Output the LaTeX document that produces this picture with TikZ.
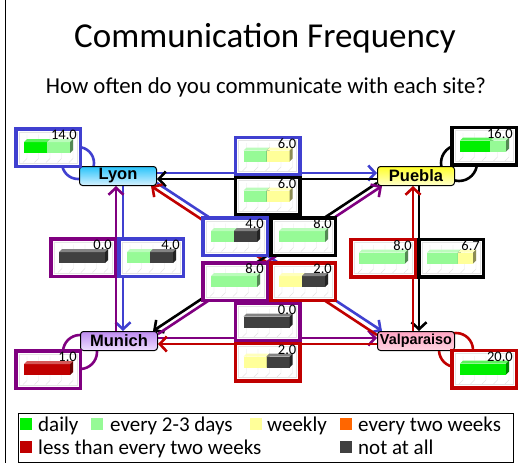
\documentclass[tikz,border=0pt]{standalone}
\usepackage{fontspec}
\setmainfont{Carlito}
\newfontfamily\sitefont{Liberation Sans}
\usetikzlibrary{arrows.meta, positioning}
\pgfdeclarelayer{background}
\pgfsetlayers{background,main}
\definecolor{dailycol}{RGB}{0,240,0}
\definecolor{fewdayscol}{RGB}{150,250,150}
\definecolor{weeklycol}{RGB}{255,255,153}
\definecolor{biweekcol}{RGB}{255,102,0}
\definecolor{rarecol}{RGB}{192,0,0}
\definecolor{nevercol}{RGB}{64,64,64}
\definecolor{gridcol}{RGB}{228,228,228}
\definecolor{lyonborder}{RGB}{64,64,208}
\definecolor{pueblaborder}{RGB}{0,0,0}
\definecolor{munichborder}{RGB}{128,0,128}
\definecolor{valpborder}{RGB}{192,0,0}
\definecolor{lyontop}{RGB}{40,195,250}
\definecolor{lyonbot}{RGB}{215,242,255}
\definecolor{pueblatop}{RGB}{255,255,40}
\definecolor{pueblabot}{RGB}{255,255,205}
\definecolor{munichtop}{RGB}{190,140,240}
\definecolor{munichbot}{RGB}{238,222,255}
\definecolor{valptop}{RGB}{255,165,195}
\definecolor{valpbot}{RGB}{255,212,225}
\tikzset{
  site/.style={rectangle, rounded corners=3pt, draw=black, line width=1pt,
    minimum width=77pt, minimum height=19pt, inner sep=0pt,
    font=\sitefont\bfseries\fontsize{16.5}{18}\selectfont},
  chart/.style={rectangle, draw, line width=3.5pt, fill=white,
    minimum width=64.5pt, minimum height=37.5pt, inner sep=0pt},
  arr/.style={-{Straight Barb[length=7pt, width=15pt]}, line width=2.6pt},
  selfloop/.style={line width=2.6pt},
  legsq/.style={rectangle, minimum size=12pt, inner sep=0pt},
  legtxt/.style={anchor=base west, inner sep=0pt, font=\fontsize{21}{24}\selectfont},
}
% #1 name, #2/#3 centre, #4 border colour, #5 value, #6 bar segments from/to/colour
\newcommand{\chartbox}[6]{%
  \node[chart, draw=#4] (#1) at (#2,#3) {};
  \begin{scope}[shift={(#2,#3)}]
    \draw[gridcol, line width=0.4pt] (-29,-15.5) rectangle (29,15.5);
    \foreach \gx in {-21,-9.5,2,13.5,25}
      \draw[gridcol, line width=0.4pt] (\gx,-13) -- (\gx,11) -- (\gx-4,15);
    \foreach \a/\b/\c in {#6} {
      \pgfmathsetmacro\xa{-24+46*\a}
      \pgfmathsetmacro\xb{-24+46*\b}
      \fill[\c] (\xa,-5.5) rectangle (\xb,5.5);
      \fill[\c!65!white] (\xa,-5.5) -- (\xa+3,-8.5) -- (\xb+3,-8.5) -- (\xb,-5.5) -- cycle;
      \fill[\c!55!black] (\xb,-5.5) -- (\xb+3,-8.5) -- (\xb+3,2.5) -- (\xb,5.5) -- cycle;
    }
    \node[anchor=base east, inner sep=0pt, font=\fontsize{14.5}{16}\selectfont] at (29,-8) {#5};
  \end{scope}
}

\begin{document}
\begin{tikzpicture}[x=1pt, y=-1pt]
  \useasboundingbox (0,0) rectangle (518,463);
  \draw[line width=1pt] (5,0) -- (5,463);

  \node[font=\fontsize{35}{40}\selectfont] (title) at (265,38) {Communication Frequency};
  \node[font=\fontsize{22.8}{26}\selectfont] (question) at (266,87)
    {How often do you communicate with each site?};

  % Sites
  \node[site, top color=lyontop, bottom color=lyonbot] (lyon) at (118,176) {Lyon};
  \node[site, top color=pueblatop, bottom color=pueblabot] (puebla) at (416,176) {Puebla};
  \node[site, top color=munichtop, bottom color=munichbot] (munich) at (119,341) {Munich};
  \node[site, top color=valptop, bottom color=valpbot,
        font=\sitefont\bfseries\fontsize{14.4}{16}\selectfont] (valparaiso) at (416,341) {Valparaiso};

  % Charts on the site itself
  \chartbox{lyonself}{48}{147.5}{lyonborder}{14.0}{0/0.5/dailycol, 0.5/1/fewdayscol}
  \chartbox{pueblaself}{484}{146}{pueblaborder}{16.0}{0/0.66/dailycol, 0.66/1/fewdayscol}
  \chartbox{munichself}{48}{369.5}{munichborder}{1.0}{0/1/rarecol}
  \chartbox{valpself}{484}{369}{valpborder}{20.0}{0/1/dailycol}

  % Lyon - Puebla
  \chartbox{lyonpuebla}{267.5}{156}{lyonborder}{6.0}{0/0.5/fewdayscol, 0.5/1/weeklycol}
  \chartbox{puebyon}{267.5}{196}{pueblaborder}{6.0}{0/0.5/fewdayscol, 0.5/1/weeklycol}

  % Lyon - Munich
  \chartbox{munichlyon}{83}{257.5}{munichborder}{0.0}{0/1/nevercol}
  \chartbox{lyonmunich}{151}{257.5}{lyonborder}{4.0}{0/0.5/fewdayscol, 0.5/1/nevercol}

  % Diagonals
  \chartbox{lyonvalp}{235}{236.5}{lyonborder}{4.0}{0/0.5/fewdayscol, 0.5/1/nevercol}
  \chartbox{pueblamunich}{303}{236.5}{pueblaborder}{8.0}{0/1/fewdayscol}
  \chartbox{munichpuebla}{235}{281.5}{munichborder}{8.0}{0/1/fewdayscol}
  \chartbox{valplyon}{303}{281.5}{valpborder}{2.0}{0/0.5/weeklycol, 0.5/1/nevercol}

  % Munich - Valparaiso
  \chartbox{munichvalp}{267.5}{322}{munichborder}{0.0}{0/1/nevercol}
  \chartbox{valpmunich}{267.5}{362}{valpborder}{2.0}{0/0.5/weeklycol, 0.5/1/nevercol}

  % Puebla - Valparaiso
  \chartbox{valppuebla}{383}{258}{valpborder}{8.0}{0/1/fewdayscol}
  \chartbox{pueblavalp}{451}{258}{pueblaborder}{6.7}{0/0.67/fewdayscol, 0.67/1/weeklycol}

  \begin{pgfonlayer}{background}
    % Self loops
    \draw[selfloop, lyonborder] ([shift={(-1,-3)}]lyon.north west) circle[radius=16];
    \draw[selfloop, pueblaborder] ([shift={(4,-3)}]puebla.north east) circle[radius=18];
    \draw[selfloop, munichborder] ([shift={(0,1)}]munich.south west) circle[radius=17];
    \draw[selfloop, valpborder] ([shift={(1,-1)}]valparaiso.south east) circle[radius=17];

    % Lyon <-> Puebla
    \draw[arr, lyonborder] ([yshift=3pt]lyon.east) -- ([yshift=3pt]puebla.west);
    \draw[arr, pueblaborder] ([yshift=-3pt]puebla.west) -- ([yshift=-3pt]lyon.east);
    % Lyon <-> Munich
    \draw[arr, lyonborder] ([xshift=5pt]lyon.south) -- ([xshift=4pt]munich.north);
    \draw[arr, munichborder] ([xshift=-3pt]munich.north) -- ([xshift=-2pt]lyon.south);
    % Puebla <-> Valparaiso
    \draw[arr, pueblaborder] ([xshift=3pt]puebla.south) -- ([xshift=3pt]valparaiso.north);
    \draw[arr, valpborder] ([xshift=-3pt]valparaiso.north) -- ([xshift=-3pt]puebla.south);
    % Munich <-> Valparaiso
    \draw[arr, munichborder] ([yshift=3pt]munich.east) -- ([yshift=3pt]valparaiso.west);
    \draw[arr, valpborder] ([yshift=-3pt]valparaiso.west) -- ([yshift=-3pt]munich.east);
    % Diagonals
    \draw[arr, lyonborder] ([yshift=3pt]lyon.south east) -- ([xshift=5pt]valparaiso.north west);
    \draw[arr, valpborder] ([yshift=-4pt]valparaiso.north west) -- ([xshift=-6pt]lyon.south east);
    \draw[arr, pueblaborder] ([yshift=3pt]puebla.south west) -- ([xshift=-5pt]munich.north east);
    \draw[arr, munichborder] ([yshift=-3pt]munich.north east) -- ([xshift=5pt]puebla.south west);
  \end{pgfonlayer}

  % Legend
  \node[draw, line width=1.2pt, minimum width=495pt, minimum height=49pt,
        anchor=north west, inner sep=0pt] (legend) at (17.5,412.5) {};
  \node[legsq, fill=dailycol] (sqdaily) at (26,424) {};
  \node[legtxt] (txdaily) at (38,431.5) {daily};
  \node[legsq, fill=fewdayscol] (sqfewdays) at (97,424) {};
  \node[legtxt] (txfewdays) at (110,431.5) {every 2-3 days};
  \node[legsq, fill=weeklycol] (sqweekly) at (255.5,424) {};
  \node[legtxt] (txweekly) at (267,431.5) {weekly};
  \node[legsq, fill=biweekcol] (sqbiweek) at (346,424) {};
  \node[legtxt] (txbiweek) at (358,431.5) {every two weeks};
  \node[legsq, fill=rarecol] (sqrare) at (26,447) {};
  \node[legtxt] (txrare) at (38,454.5) {less than every two weeks};
  \node[legsq, fill=nevercol] (sqnever) at (346,447) {};
  \node[legtxt] (txnever) at (358,454.5) {not at all};
\end{tikzpicture}
\end{document}
